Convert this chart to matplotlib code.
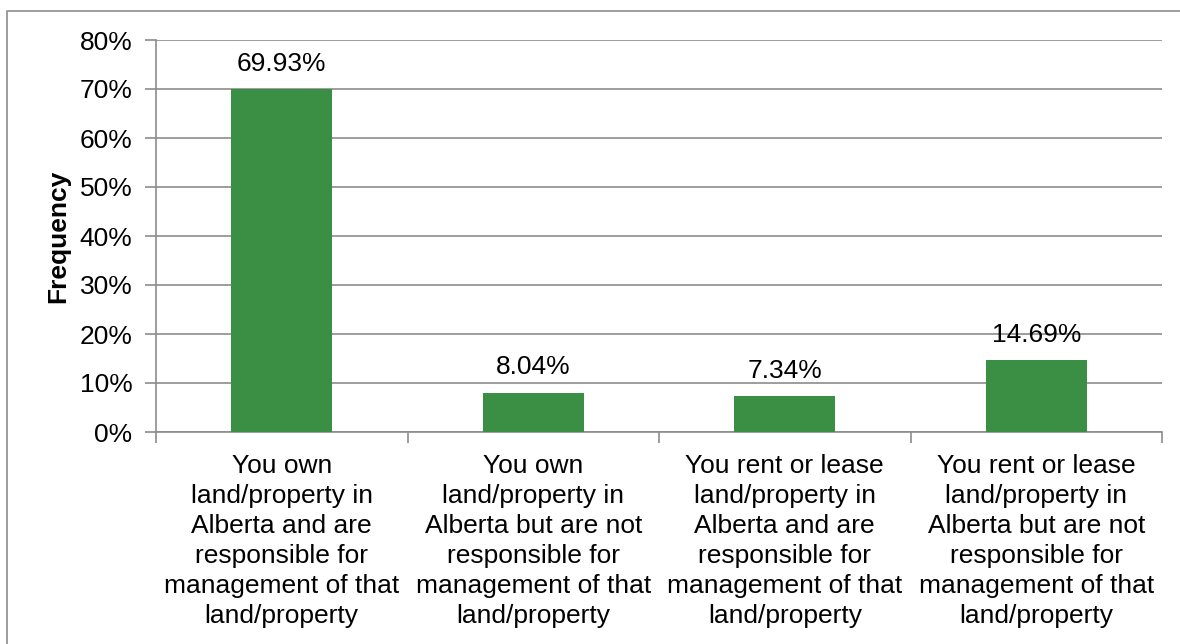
import matplotlib.pyplot as plt
from matplotlib.lines import Line2D
from matplotlib.ticker import FuncFormatter

plt.rcParams["font.family"] = ["Liberation Sans", "DejaVu Sans"]

### Data ###
categories = [
    "You own\nland/property in\nAlberta and are\nresponsible for\nmanagement of that\nland/property",
    "You own\nland/property in\nAlberta but are not\nresponsible for\nmanagement of that\nland/property",
    "You rent or lease\nland/property in\nAlberta and are\nresponsible for\nmanagement of that\nland/property",
    "You rent or lease\nland/property in\nAlberta but are not\nresponsible for\nmanagement of that\nland/property",
]
values = [69.93, 8.04, 7.34, 14.69]
labels = ["69.93%", "8.04%", "7.34%", "14.69%"]
y_ticks = [0, 10, 20, 30, 40, 50, 60, 70, 80]

BAR_COLOR = "#3A8F44"
GRID_COLOR = "#8C8C8C"
FS = 19

fig = plt.figure(figsize=(11.8, 6.44), dpi=100)
ax = fig.add_axes([156 / 1180, 1 - 432 / 644, (1162 - 156) / 1180, (432 - 40) / 644])

# outer chart border (cropped: only left and top edges visible)
bx, by = 7 / 1180, 1 - 11 / 644
fig.lines.append(Line2D([bx, bx, 1.0], [0.0, by, by], transform=fig.transFigure,
                        color="#8C8C8C", linewidth=1.2))

x = list(range(len(values)))
ax.bar(x, values, width=0.4, color=BAR_COLOR, zorder=3)
for xi, v, lab in zip(x, values, labels):
    ax.annotate(lab, (xi, v), xytext=(0, 9.5), textcoords="offset points",
                ha="center", va="bottom", fontsize=FS, zorder=4)

ax.set_xlim(-0.5, len(values) - 0.5)
ax.set_ylim(0, 80)
ax.set_yticks(y_ticks)
ax.yaxis.set_major_formatter(FuncFormatter(lambda v, p: f"{v:.0f}%"))
ax.grid(axis="y", color=GRID_COLOR, linewidth=1.2, zorder=0)

ax.set_xticks([i - 0.5 for i in range(len(values) + 1)])
ax.set_xticklabels([])
ax.set_xticks(x, minor=True)
ax.set_xticklabels(categories, minor=True, fontsize=FS, linespacing=1.31)
ax.tick_params(axis="x", which="minor", length=0, pad=16)
ax.tick_params(axis="x", which="major", length=8, color=GRID_COLOR, width=1.2)
ax.tick_params(axis="y", length=8, color=GRID_COLOR, width=1.2, labelsize=FS, pad=9)

for side in ["top", "right"]:
    ax.spines[side].set_visible(False)
for side in ["left", "bottom"]:
    ax.spines[side].set_color(GRID_COLOR)
    ax.spines[side].set_linewidth(1.2)

ax.set_ylabel("Frequency", fontsize=FS, fontweight="bold", labelpad=7)

fig.savefig("out.png", dpi=100)
